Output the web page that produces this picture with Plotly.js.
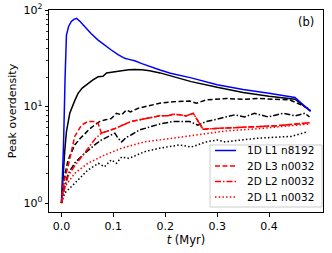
<!DOCTYPE html>
<html>
<head>
<meta charset="utf-8">
<script src="https://cdn.plot.ly/plotly-3.0.1.min.js"></script>
<style>html,body{margin:0;padding:0;background:#fff}#chart{width:332px;height:253px}</style>
</head>
<body>
<div id="chart"></div>
<script>
// 1D L1 n8192 (blue solid)
const tBlue = [0, 0.004, 0.007, 0.0096, 0.014, 0.019, 0.024, 0.029, 0.036, 0.045, 0.057, 0.0706, 0.083, 0.096, 0.109, 0.122, 0.13, 0.141, 0.155, 0.17, 0.19, 0.21, 0.25, 0.30, 0.35, 0.40, 0.45, 0.48];
const vBlue = [1, 4, 20, 55, 68, 76, 80, 82, 76, 67, 57, 48.8, 43, 38.5, 34.5, 31.6, 30.8, 29.8, 27.8, 25.9, 23.9, 22.1, 19.8, 16.8, 15.0, 13.7, 12.4, 8.9];

// black solid (unlabelled)
const tBlackSolid = [0, 0.003, 0.0064, 0.0096, 0.0128, 0.016, 0.0256, 0.032, 0.04, 0.051, 0.06, 0.0706, 0.08, 0.087, 0.1, 0.116, 0.13, 0.141, 0.155, 0.17, 0.19, 0.21, 0.25, 0.30, 0.35, 0.40, 0.45, 0.48];
const vBlackSolid = [1, 2.0, 3.5, 5.5, 6.7, 8.5, 11.5, 13.7, 15.5, 17.4, 18.8, 20.3, 20.6, 22.3, 23.0, 23.5, 24.0, 24.2, 24.0, 23.5, 22.3, 20.8, 18.1, 15.8, 14.0, 12.8, 11.9, 9.0];

// black dashed (unlabelled)
const tBlackDash = [0, 0.006, 0.0128, 0.0256, 0.035, 0.045, 0.055, 0.065, 0.074, 0.083, 0.096, 0.106, 0.116, 0.125, 0.133, 0.148, 0.16, 0.189, 0.215, 0.247, 0.26, 0.279, 0.318, 0.35, 0.38, 0.41, 0.44, 0.462, 0.48];
const vBlackDash = [1, 1.9, 2.8, 4.0, 4.6, 5.2, 5.9, 6.5, 7.0, 7.25, 7.5, 8.5, 8.2, 9.2, 8.8, 9.6, 9.95, 10.8, 11.2, 11.4, 10.8, 11.7, 12.1, 11.9, 12.1, 12.0, 11.7, 10.4, 9.2];

// black dash-dot (unlabelled)
const tBlackDashDot = [0, 0.006, 0.0128, 0.0256, 0.04, 0.051, 0.064, 0.077, 0.09, 0.103, 0.109, 0.116, 0.125, 0.135, 0.15, 0.16, 0.19, 0.215, 0.247, 0.263, 0.279, 0.295, 0.31, 0.334, 0.353, 0.372, 0.398, 0.427, 0.45, 0.469, 0.478];
const vBlackDashDot = [1, 1.5, 2.0, 2.6, 3.1, 3.5, 4.0, 4.5, 4.9, 5.3, 4.7, 4.3, 4.8, 5.1, 5.7, 5.9, 6.6, 7.0, 7.0, 6.4, 7.0, 7.3, 7.6, 8.2, 7.8, 8.5, 7.8, 8.5, 8.0, 8.5, 7.8];

// black dotted (unlabelled)
const tBlackDot = [0, 0.0064, 0.0256, 0.051, 0.071, 0.083, 0.096, 0.106, 0.116, 0.13, 0.16, 0.189, 0.228, 0.25, 0.279, 0.30, 0.315, 0.379, 0.443, 0.475];
const vBlackDot = [1, 1.27, 1.6, 2.2, 2.58, 2.38, 2.8, 2.58, 3.0, 2.9, 3.4, 3.7, 4.0, 3.8, 4.3, 4.5, 4.3, 4.7, 4.9, 5.5];

// 2D L3 n0032 (red dashed)
const tL3 = [0, 0.004, 0.0128, 0.0256, 0.0385, 0.051, 0.064, 0.0706, 0.077, 0.09, 0.103, 0.12, 0.135, 0.151, 0.17, 0.189, 0.205, 0.215, 0.228, 0.24, 0.254, 0.263, 0.273, 0.29, 0.324, 0.35, 0.379, 0.41, 0.44, 0.46, 0.478];
const vL3 = [1, 1.6, 2.4, 4.9, 6.4, 7.0, 7.0, 6.7, 5.3, 5.6, 5.9, 6.5, 7.0, 7.3, 7.6, 8.0, 8.0, 8.3, 8.2, 8.0, 8.5, 7.0, 5.8, 5.9, 6.0, 6.1, 6.2, 6.3, 6.5, 6.6, 6.8];

// 2D L2 n0032 (red dash-dot)
const tL2 = [0, 0.004, 0.0128, 0.025, 0.0385, 0.05, 0.058, 0.066, 0.074, 0.077, 0.09, 0.103, 0.12, 0.135, 0.151, 0.17, 0.189, 0.205, 0.215, 0.228, 0.24, 0.254, 0.263, 0.273, 0.29, 0.324, 0.35, 0.379, 0.41, 0.44, 0.46, 0.478];
const vL2 = [1, 1.3, 1.9, 2.4, 3.0, 3.6, 4.2, 4.7, 5.1, 5.3, 5.6, 5.9, 6.5, 7.0, 7.3, 7.6, 8.0, 8.0, 8.3, 8.2, 8.0, 8.5, 7.0, 5.8, 5.9, 6.0, 6.1, 6.2, 6.3, 6.5, 6.6, 6.8];

// 2D L1 n0032 (red dotted)
const tL1 = [0, 0.0064, 0.0256, 0.051, 0.083, 0.116, 0.16, 0.215, 0.25, 0.279, 0.32, 0.38, 0.44, 0.48];
const vL1 = [1, 1.47, 2.03, 2.58, 3.14, 3.7, 4.3, 4.7, 5.0, 5.3, 5.6, 5.9, 6.3, 6.6];

const legendNames = ['1D L1 n8192', '2D L3 n0032', '2D L2 n0032', '2D L1 n0032'];
const legendColors = ['#0000ff', '#ff0000', '#ff0000', '#ff0000'];
const yTickVals = [1, 10, 100];
const yTickText = ['10<sup>0</sup>', '10<sup>1</sup>', '10<sup>2</sup>'];
const yMinorVals = [2,3,4,5,6,7,8,9,20,30,40,50,60,70,80,90];
const xTickVals = [0, 0.1, 0.2, 0.3, 0.4];
const xTickText = ['0.0', '0.1', '0.2', '0.3', '0.4'];

const LW = 1.5;
const DASH = '5px,2.5px';
const DASHDOT = '6px,2px,1.5px,2px';
const DOT = '1.5px,2.2px';
const legendDashes = ['solid', DASH, DASHDOT, DOT];

function tr(x, y, color, dash, name) {
  return {x: x, y: y, type: 'scatter', mode: 'lines', name: name || '',
    showlegend: false, line: {color: color, width: LW, dash: dash}, hoverinfo: 'skip'};
}

const data = [
  tr(tBlackSolid, vBlackSolid, '#000000', 'solid'),
  tr(tBlackDash, vBlackDash, '#000000', DASH),
  tr(tBlackDashDot, vBlackDashDot, '#000000', DASHDOT),
  tr(tBlackDot, vBlackDot, '#000000', DOT),
  tr(tBlue, vBlue, '#0000ff', 'solid', legendNames[0]),
  tr(tL3, vL3, '#ff0000', DASH, legendNames[1]),
  tr(tL2, vL2, '#ff0000', DASHDOT, legendNames[2]),
  tr(tL1, vL1, '#ff0000', DOT, legendNames[3])
];

// legend drawn in paper coordinates (box, line samples, labels)
const legBox = {x0: 0.5876, x1: 0.9964, y0: 0.0248, y1: 0.3317};
const legRowsY = [0.3045, 0.2277, 0.151, 0.0743];
const legLineX = [0.6058, 0.6825];
const legTextX = 0.7153;

const shapes = [{
  type: 'rect', xref: 'paper', yref: 'paper',
  x0: legBox.x0, x1: legBox.x1, y0: legBox.y0, y1: legBox.y1,
  fillcolor: 'rgba(255,255,255,0.8)', line: {color: '#cccccc', width: 1}, layer: 'above'
}];
const annotations = [{
  xref: 'paper', yref: 'paper', x: 0.975, y: 0.985, xanchor: 'right', yanchor: 'top',
  text: '(b)', showarrow: false, font: {family: 'DejaVu Sans, sans-serif', size: 11.5, color: '#000'}
}];
legendNames.forEach((nm, i) => {
  shapes.push({type: 'line', xref: 'paper', yref: 'paper',
    x0: legLineX[0], x1: legLineX[1], y0: legRowsY[i], y1: legRowsY[i],
    line: {color: legendColors[i], width: LW, dash: legendDashes[i]}, layer: 'above'});
  annotations.push({xref: 'paper', yref: 'paper', x: legTextX, y: legRowsY[i],
    xanchor: 'left', yanchor: 'middle', text: nm, showarrow: false,
    font: {family: 'DejaVu Sans, sans-serif', size: 10.5, color: '#000'}});
});

const FONT = 'DejaVu Sans, sans-serif';
const layout = {
  width: 332, height: 253,
  margin: {l: 49, r: 9, t: 10, b: 41},
  paper_bgcolor: '#ffffff', plot_bgcolor: '#ffffff',
  font: {family: FONT, size: 11, color: '#000'},
  showlegend: false,
  xaxis: {
    range: [-0.024, 0.504], showgrid: false, zeroline: false,
    showline: true, mirror: true, linecolor: '#000', linewidth: 1,
    ticks: 'outside', ticklen: 3.5, tickwidth: 1, tickcolor: '#000',
    tickmode: 'array', tickvals: xTickVals, ticktext: xTickText,
    tickfont: {family: FONT, size: 11},
    title: {text: '<i>t</i> (Myr)', font: {family: FONT, size: 11.5}, standoff: 2}
  },
  yaxis: {
    type: 'log', range: [-0.093, 2], showgrid: false, zeroline: false,
    showline: true, mirror: true, linecolor: '#000', linewidth: 1,
    ticks: 'outside', ticklen: 3.5, tickwidth: 1, tickcolor: '#000',
    tickmode: 'array', tickvals: yTickVals, ticktext: yTickText,
    tickfont: {family: FONT, size: 11},
    minor: {ticks: 'outside', ticklen: 2, tickwidth: 0.8, tickcolor: '#000', tickmode: 'array', tickvals: yMinorVals, showgrid: false},
    title: {text: 'Peak overdensity', font: {family: FONT, size: 11}, standoff: 4}
  },
  shapes: shapes,
  annotations: annotations
};

Plotly.newPlot('chart', data, layout, {staticPlot: true, displayModeBar: false});
</script>
</body>
</html>
